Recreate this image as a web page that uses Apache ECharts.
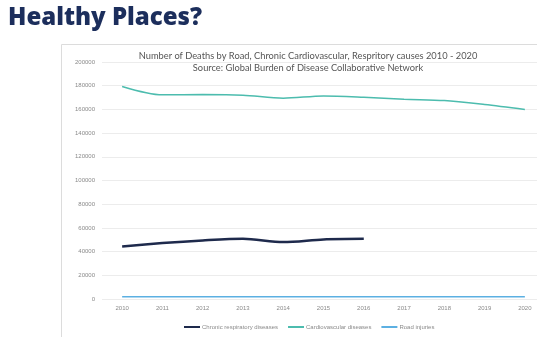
<!DOCTYPE html>
<html><head><meta charset="utf-8">
<script src="https://cdn.jsdelivr.net/npm/echarts@6/dist/echarts.min.js"></script>
<style>html,body{margin:0;padding:0;background:#fff;overflow:hidden;width:537px;height:337px}#c{width:545px;height:337px}</style>
</head><body><div id="c"></div>
<script>
const years = ['2010','2011','2012','2013','2014','2015','2016','2017','2018','2019','2020'];
const chronicResp = [44300, 47200, 49400, 50800, 48000, 50300, 50800, null, null, null, null];
const cardio = [179400, 172300, 172500, 172000, 169500, 171400, 170300, 168600, 167500, 164100, 159900];
const road = [1800, 1800, 1800, 1800, 1800, 1800, 1800, 1800, 1800, 1800, 1800];
const seriesNames = ['Chronic respiratory diseases', 'Cardiovascular diseases', 'Road injuries'];

const chart = echarts.init(document.getElementById('c'), null, {renderer:'canvas'});
chart.setOption({
  animation:false,
  graphic:[
    {type:'rect', left:61, top:44, shape:{width:520, height:320}, style:{fill:'#fff', stroke:'#dcdcdc', lineWidth:1}, z:-1},
    {type:'text', left:8, top:6, style:{text:'Healthy Places?', font:'800 24px "Open Sans", sans-serif', fill:'#1c2e5c'}}
  ],
  title:{
    text:'Number of Deaths by Road, Chronic Cardiovascular, Respritory causes 2010 - 2020\nSource: Global Burden of Disease Collaborative Network',
    left:303, textAlign:'center', top:45,
    textStyle:{fontSize:9.3, fontWeight:'normal', color:'#555', lineHeight:12, fontFamily:'Lato, sans-serif'}
  },
  legend:{
    bottom:2, left:179, itemWidth:16, itemHeight:2, itemGap:10,
    icon:'rect',
    textStyle:{fontSize:6, color:'#8a8a8a', padding:[0,0,0,-3]},
    data:seriesNames
  },
  grid:{left:102, right:0, top:62, bottom:38},
  xAxis:{
    type:'category', data:years, boundaryGap:true,
    axisLine:{show:false}, axisTick:{show:false},
    axisLabel:{fontSize:6, color:'#8a8a8a', margin:6}
  },
  yAxis:{
    type:'value', min:0, max:200000, interval:20000,
    axisLabel:{fontSize:6, color:'#8a8a8a', margin:7, formatter:function(v){return String(v);}},
    splitLine:{lineStyle:{color:'#ececec', width:1}}
  },
  series:[
    {name:seriesNames[0], type:'line', data:chronicResp, smooth:0.3, showSymbol:false, connectNulls:false,
     lineStyle:{color:'#1e2a4c', width:2.5}, itemStyle:{color:'#1e2a4c'}},
    {name:seriesNames[1], type:'line', data:cardio, smooth:0.3, showSymbol:false,
     lineStyle:{color:'#4cbcae', width:1.5}, itemStyle:{color:'#4cbcae'}},
    {name:seriesNames[2], type:'line', data:road, smooth:0.3, showSymbol:false,
     lineStyle:{color:'#5cb0e2', width:1.5}, itemStyle:{color:'#5cb0e2'}}
  ]
});
</script></body></html>
